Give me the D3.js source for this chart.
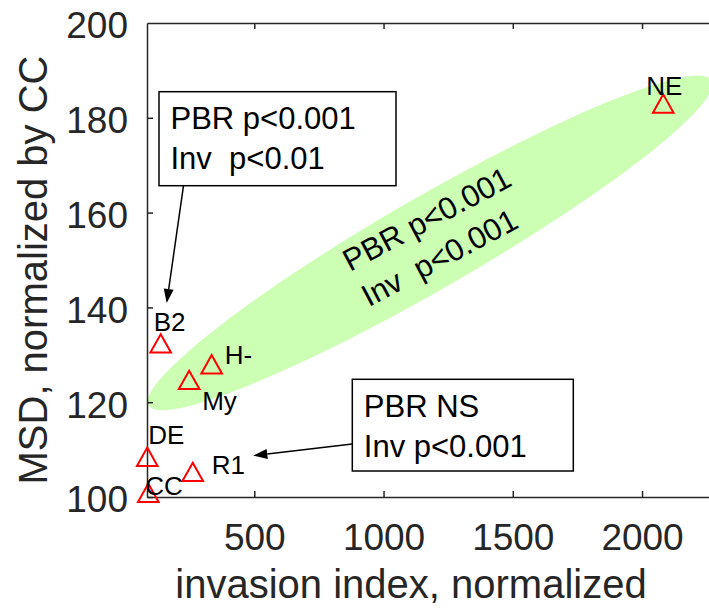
<!DOCTYPE html>
<html>
<head>
<meta charset="utf-8">
<script src="https://cdn.jsdelivr.net/npm/d3@7"></script>
<style>
  body { margin: 0; background: #fff; }
  text { font-family: "Liberation Sans", Arial, Helvetica, sans-serif; }
</style>
</head>
<body>
<svg id="chart"></svg>
<script>
// data
var groups   = ["CC", "DE", "R1", "My", "H-", "B2", "NE"];
var invasion = [90, 86, 262, 248, 335, 138, 2082];
var msd      = [100.9, 108.5, 105.3, 124.7, 128.0, 132.4, 183.0];
var xTicks = [500, 1000, 1500, 2000];
var yTicks = [100, 120, 140, 160, 180, 200];
var box1Lines = ["PBR p<0.001", "Inv  p<0.01"];
var box2Lines = ["PBR NS", "Inv p<0.001"];
var ellipseLines = ["PBR p<0.001", "Inv  p<0.001"];
var ellipseCenter = [1180, 153.6];   // data units

var w = 709, h = 614;
var mLeft = 147, mTop = 23, mBottom = 497, mRight = 709;
var axisCol = "#262626";

// label offsets (px) from each marker, same order as groups
var labelOff = [[-3, 2], [1, -13], [19, 2], [13, 30], [13, 0], [-7, -12], [-17, -9]];

var svg = d3.select("#chart")
    .attr("width", w)
    .attr("height", h);

var x = d3.scaleLinear().domain([85, 2259]).range([mLeft, mRight]);
var y = d3.scaleLinear().domain([100, 200]).range([mBottom, mTop]);

svg.append("defs").append("clipPath")
    .attr("id", "plotclip")
  .append("rect")
    .attr("x", mLeft).attr("y", mTop)
    .attr("width", mRight - mLeft).attr("height", mBottom - mTop);

// green ellipse behind everything
svg.append("g")
    .attr("clip-path", "url(#plotclip)")
  .append("ellipse")
    .attr("transform", "translate(" + [x(ellipseCenter[0]), y(ellipseCenter[1])] + ")rotate(-30)")
    .attr("rx", 325)
    .attr("ry", 46)
    .attr("fill", "#ccffb3");

var et = svg.append("g")
    .attr("transform", "translate(350,272)rotate(-28)");
et.selectAll("text")
    .data(ellipseLines)
  .enter().append("text")
    .attr("x", 0)
    .attr("y", function(d, i) { return i * 40; })
    .attr("font-size", 31)
    .attr("fill", "#000")
    .style("white-space", "pre")
    .text(function(d) { return d; });

// axes
var fmt = d3.format("d");
var gx = svg.append("g")
    .attr("transform", "translate(0," + mBottom + ")")
    .call(d3.axisBottom(x).tickValues(xTicks).tickFormat(fmt).tickSizeInner(-6).tickSizeOuter(0).tickPadding(26.5));
var gxt = svg.append("g")
    .attr("transform", "translate(0," + mTop + ")")
    .call(d3.axisTop(x).tickValues(xTicks).tickSizeInner(-6).tickSizeOuter(0).tickFormat(""));
var gy = svg.append("g")
    .attr("transform", "translate(" + mLeft + ",0)")
    .call(d3.axisLeft(y).tickValues(yTicks).tickFormat(fmt).tickSizeInner(-6).tickSizeOuter(0).tickPadding(19));

[gx, gxt, gy].forEach(function(g) {
    g.attr("font-size", 37).attr("font-family", "Liberation Sans, Arial, sans-serif");
    g.select(".domain").attr("stroke", axisCol).attr("stroke-width", 1.5);
    g.selectAll(".tick line").attr("stroke", axisCol).attr("stroke-width", 1.5);
    g.selectAll(".tick text").attr("fill", axisCol);
});
gy.selectAll(".tick text").attr("dy", "0.4em");
gy.selectAll(".tick").filter(function(d) { return d == 200; }).select("line").remove();

svg.append("text")
    .attr("x", 411)
    .attr("y", 598)
    .attr("text-anchor", "middle")
    .attr("font-size", 40)
    .attr("fill", axisCol)
    .text("invasion index, normalized");

svg.append("text")
    .attr("transform", "translate(47,270)rotate(-90)")
    .attr("text-anchor", "middle")
    .attr("font-size", 40)
    .attr("fill", axisCol)
    .text("MSD, normalized by CC");

// markers
var pts = groups.map(function(g, i) {
    return { name: g, x: invasion[i], y: msd[i], off: labelOff[i] };
});

svg.selectAll("path.tri")
    .data(pts)
  .enter().append("path")
    .attr("class", "tri")
    .attr("d", "M0,-9.2L10.3,9.2L-10.3,9.2Z")
    .attr("transform", function(d) { return "translate(" + [x(d.x), y(d.y)] + ")"; })
    .attr("fill", "none")
    .attr("stroke", "#ff0000")
    .attr("stroke-width", 2);

svg.selectAll("text.lab")
    .data(pts)
  .enter().append("text")
    .attr("class", "lab")
    .attr("x", function(d) { return x(d.x) + d.off[0]; })
    .attr("y", function(d) { return y(d.y) + d.off[1]; })
    .attr("font-size", 26)
    .attr("fill", "#000")
    .text(function(d) { return d.name; });

// annotation boxes + arrows
var drawBox = function(bx, by, bw, bh, lines) {
    svg.append("rect")
        .attr("x", bx).attr("y", by)
        .attr("width", bw).attr("height", bh)
        .attr("fill", "#fff")
        .attr("stroke", "#000")
        .attr("stroke-width", 1.5);
    svg.selectAll(null)
        .data(lines)
      .enter().append("text")
        .attr("x", bx + 11.5)
        .attr("y", function(d, i) { return by + 37.5 + i * 40; })
        .attr("font-size", 31)
        .attr("fill", "#000")
        .style("white-space", "pre")
        .text(function(d) { return d; });
};

var drawArrow = function(x1, y1, x2, y2) {
    var a = Math.atan2(y2 - y1, x2 - x1);
    var len = 14, hw = 5;
    var bx = x2 - len * Math.cos(a), by = y2 - len * Math.sin(a);
    svg.append("line")
        .attr("x1", x1).attr("y1", y1)
        .attr("x2", bx).attr("y2", by)
        .attr("stroke", "#000")
        .attr("stroke-width", 1.5);
    svg.append("path")
        .attr("d", "M" + [x2, y2] +
            "L" + [bx + hw * Math.sin(a), by - hw * Math.cos(a)] +
            "L" + [bx - hw * Math.sin(a), by + hw * Math.cos(a)] + "Z")
        .attr("fill", "#000");
};

drawBox(159, 91.7, 237, 94, box1Lines);
drawArrow(183.5, 185.7, 166.7, 303);

drawBox(352.3, 379.3, 221, 91.7, box2Lines);
drawArrow(352.3, 444, 253.3, 455.7);
</script>
</body>
</html>
